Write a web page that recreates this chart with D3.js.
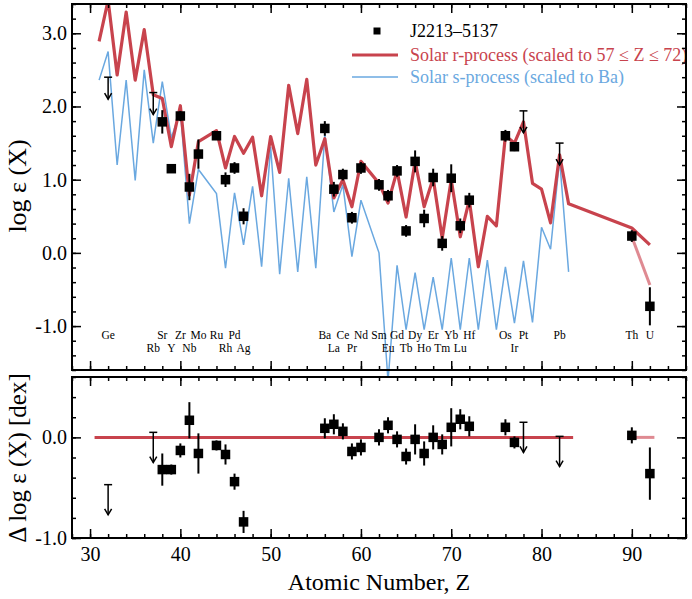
<!DOCTYPE html>
<html>
<head>
<meta charset="utf-8">
<script src="https://cdn.jsdelivr.net/npm/d3@7"></script>
<style>
  body { margin: 0; background: #fff; }
  svg { display: block; font-family: 'Liberation Serif', 'DejaVu Serif', serif; }
</style>
</head>
<body>
<div id="chart"></div>
<script>
// Solar r-process pattern (scaled)
const rZ = [31,32,33,34,35,36,37,38,39,40,41,42,44,45,46,47,48,49,50,51,52,53,54,55,56,57,58,59,60,
  62,63,64,65,66,67,68,69,70,71,72,73,74,75,76,77,78,79,80,81,82,83,90,92];
const rLog = [2.89,3.45,2.43,3.29,2.36,3.05,2.16,2.11,1.45,2.01,0.79,1.52,1.67,1.16,1.59,1.36,1.58,0.78,1.59,1.10,2.29,1.63,2.37,1.20,1.56,0.75,1.00,0.63,1.25,
  0.95,0.68,1.12,0.49,1.25,0.63,1.02,0.20,1.00,0.22,0.72,-0.19,0.50,0.37,1.60,1.50,1.79,0.95,0.87,0.41,1.34,0.67,0.34,0.11];

// Solar s-process pattern (scaled to Ba)
const sZ = [31,32,33,34,35,36,37,38,39,40,41,42,44,45,46,47,48,49,50,51,52,53,54,55,56,57,58,59,60,
  62,63,64,65,66,67,68,69,70,71,72,73,74,75,76,77,78,79,80,81,82,83];
const sLog = [2.36,2.75,1.20,2.36,0.99,2.50,1.50,2.34,1.57,1.95,0.40,1.14,0.81,-0.21,0.82,0.11,0.91,-0.19,1.45,-0.29,1.02,-0.26,1.04,-0.21,1.62,0.56,0.93,-0.05,0.72,
  0.00,-1.75,-0.17,-1.05,-0.27,-1.05,-0.33,-1.05,-0.07,-1.05,-0.07,-1.05,-0.10,-1.05,-0.19,-0.96,-0.11,-0.95,0.35,0.05,1.28,-0.26];

// Th -> U decay line
const decayZ = [90, 92];
const decayLog = [0.22, -0.44];

// J2213-5137 measurements
const obsZ = [38,39,40,41,42,44,45,46,47,56,57,58,59,60,62,63,64,65,66,67,68,69,70,71,72,76,77,90,92];
const obsLog = [1.79,1.15,1.87,0.90,1.35,1.60,1.00,1.16,0.50,1.70,0.87,1.07,0.48,1.16,0.93,0.78,1.12,0.30,1.25,0.47,1.03,0.13,1.02,0.37,0.72,1.60,1.45,0.23,-0.73];
const obsErr = [0.16,0.05,0.07,0.18,0.20,0.05,0.10,0.08,0.11,0.10,0.10,0.08,0.08,0.08,0.08,0.08,0.08,0.08,0.15,0.12,0.12,0.10,0.19,0.10,0.10,0.08,0.06,0.08,0.26];
const obsDelta = [-0.32,-0.32,-0.13,0.17,-0.16,-0.08,-0.17,-0.44,-0.84,0.09,0.13,0.06,-0.14,-0.10,0.00,0.12,-0.02,-0.19,-0.02,-0.16,0.00,-0.07,0.10,0.18,0.11,0.10,-0.05,0.02,-0.36];

// upper limits
const ulZ = [32, 37, 78, 82];
const ulLog = [2.40, 2.19, 1.94, 1.50];
const ulDelta = [-0.47, 0.05, 0.15, 0.01];

// element labels
const elemZ = [32,37,38,39,40,41,42,44,45,46,47,56,57,58,59,60,62,63,64,65,66,67,68,69,70,71,72,76,77,78,82,90,92];
const elemName = ['Ge','Rb','Sr','Y','Zr','Nb','Mo','Ru','Rh','Pd','Ag','Ba','La','Ce','Pr','Nd','Sm','Eu','Gd','Tb','Dy','Ho','Er','Tm','Yb','Lu','Hf','Os','Ir','Pt','Pb','Th','U'];

// residual reference lines
const resLineZ = [30.5, 83.5];
const resDecayZ = [89.5, 92.5];

const RED = '#c8434d';
const BLUE = '#6aa8e0';
const PINK = '#df8a92';

const width = 692, height = 599;
const svg = d3.select('#chart').append('svg').attr('width', width).attr('height', height);

const x = d3.scaleLinear().domain([28, 96]).range([72, 686]);
const yTop = d3.scaleLinear().domain([-1.6, 3.4]).range([370, 4]);
const yBot = d3.scaleLinear().domain([-1.0, 0.6]).range([538, 377]);

const fmt = (d) => d.toFixed(1);

svg.append('defs').append('clipPath').attr('id', 'clipTop')
  .append('rect').attr('x', 72).attr('y', 4).attr('width', 614).attr('height', 380);

function zip(a, b) { return a.map((d, i) => [d, b[i]]); }

// ---------- top panel ----------
const topG = svg.append('g');
const lineTop = d3.line().x((d) => x(d[0])).y((d) => yTop(d[1]));
const curves = topG.append('g').attr('clip-path', 'url(#clipTop)');

curves.append('path').datum(zip(sZ, sLog)).attr('d', lineTop)
  .attr('fill', 'none').attr('stroke', BLUE).attr('stroke-width', 1.5).attr('stroke-linejoin', 'miter');
curves.append('path').datum(zip(decayZ, decayLog)).attr('d', lineTop)
  .attr('fill', 'none').attr('stroke', PINK).attr('stroke-width', 3);
curves.append('path').datum(zip(rZ, rLog)).attr('d', lineTop)
  .attr('fill', 'none').attr('stroke', RED).attr('stroke-width', 3.2).attr('stroke-linejoin', 'round');

// element labels
topG.append('g').selectAll('text')
  .data(zip(elemZ, elemName))
  .join('text')
  .attr('x', (d) => x(d[0]))
  .attr('y', (d) => (d[0] % 2 === 1 ? yTop(-1.36) : yTop(-1.18)))
  .attr('text-anchor', 'middle')
  .attr('font-size', 11.5)
  .text((d) => d[1]);

function drawPoints(g, ys, vals) {
  const pts = obsZ.map((z, i) => ({ z, v: vals[i], e: obsErr[i] }));
  g.append('g').selectAll('line')
    .data(pts).join('line')
    .attr('x1', (d) => x(d.z)).attr('x2', (d) => x(d.z))
    .attr('y1', (d) => ys(d.v - d.e)).attr('y2', (d) => ys(d.v + d.e))
    .attr('stroke', '#000').attr('stroke-width', 2);
  g.append('g').selectAll('rect')
    .data(pts).join('rect')
    .attr('x', (d) => x(d.z) - 4.75).attr('y', (d) => ys(d.v) - 4.75)
    .attr('width', 9.5).attr('height', 9.5).attr('fill', '#000');
}

function drawLimits(g, ys, vals) {
  const lims = ulZ.map((z, i) => ({ z, v: vals[i] }));
  const s = g.append('g').attr('stroke', '#000').attr('stroke-width', 1.5).attr('fill', 'none');
  lims.forEach((d) => {
    const cx = x(d.z), y0 = ys(d.v), y1 = ys(d.v - 0.3);
    s.append('line').attr('x1', cx - 4).attr('x2', cx + 4).attr('y1', y0).attr('y2', y0);
    s.append('line').attr('x1', cx).attr('x2', cx).attr('y1', y0).attr('y2', y1);
    s.append('path').attr('d', `M${cx - 3.5},${y1 - 6}L${cx},${y1}L${cx + 3.5},${y1 - 6}`);
  });
}

drawLimits(topG, yTop, ulLog);
drawPoints(topG, yTop, obsLog);

// legend
const leg = topG.append('g').attr('font-size', 18);
leg.append('rect').attr('x', 373.5).attr('y', 27.5).attr('width', 7).attr('height', 7).attr('fill', '#000');
leg.append('text').attr('x', 410).attr('y', 37).text('J2213–5137');
leg.append('line').attr('x1', 352).attr('x2', 398).attr('y1', 55).attr('y2', 55).attr('stroke', RED).attr('stroke-width', 3);
leg.append('text').attr('x', 410).attr('y', 61).attr('fill', RED).text('Solar r-process (scaled to 57 ≤ Z ≤ 72)');
leg.append('line').attr('x1', 352).attr('x2', 398).attr('y1', 77).attr('y2', 77).attr('stroke', BLUE).attr('stroke-width', 1.5);
leg.append('text').attr('x', 410).attr('y', 83).attr('fill', BLUE).text('Solar s-process (scaled to Ba)');

// ---------- bottom panel ----------
const botG = svg.append('g');
botG.append('rect').attr('x', 72).attr('y', 377).attr('width', 614).attr('height', 161).attr('fill', '#fff');
const lineBot = d3.line().x((d) => x(d[0])).y((d) => yBot(d[1]));
botG.append('path').datum(resLineZ.map((z) => [z, 0])).attr('d', lineBot)
  .attr('stroke', RED).attr('stroke-width', 3).attr('fill', 'none');
botG.append('path').datum(resDecayZ.map((z) => [z, 0])).attr('d', lineBot)
  .attr('stroke', PINK).attr('stroke-width', 3).attr('fill', 'none');
drawLimits(botG, yBot, ulDelta);
drawPoints(botG, yBot, obsDelta);

// ---------- axes ----------
function frame(g, ys, yMajor, yMinor, showX) {
  const [y0, y1] = ys.range();
  const [x0, x1] = x.range();
  const xMaj = d3.range(30, 96, 10), xMin = d3.range(28, 97, 2);

  const style = (sel) => {
    sel.select('.domain').remove();
    sel.selectAll('line').attr('stroke', '#000').attr('stroke-width', 1.5);
    sel.selectAll('text').attr('font-size', 20).attr('fill', '#000');
    sel.attr('font-family', null);
  };

  g.append('g').attr('transform', `translate(0,${y0})`)
    .call(d3.axisBottom(x).tickValues(xMin).tickSize(-4).tickFormat('')).call(style);
  g.append('g').attr('transform', `translate(0,${y0})`)
    .call(d3.axisBottom(x).tickValues(xMaj).tickSize(-9).tickPadding(9).tickFormat(showX ? d3.format('d') : '')).call(style);
  g.append('g').attr('transform', `translate(0,${y1})`)
    .call(d3.axisTop(x).tickValues(xMin).tickSize(-4).tickFormat('')).call(style);
  g.append('g').attr('transform', `translate(0,${y1})`)
    .call(d3.axisTop(x).tickValues(xMaj).tickSize(-9).tickFormat('')).call(style);

  g.append('g').attr('transform', `translate(${x0},0)`)
    .call(d3.axisLeft(ys).tickValues(yMinor).tickSize(-4).tickFormat('')).call(style);
  g.append('g').attr('transform', `translate(${x0},0)`)
    .call(d3.axisLeft(ys).tickValues(yMajor).tickSize(-9).tickPadding(5).tickFormat(fmt)).call(style);
  g.append('g').attr('transform', `translate(${x1},0)`)
    .call(d3.axisRight(ys).tickValues(yMinor).tickSize(-4).tickFormat('')).call(style);
  g.append('g').attr('transform', `translate(${x1},0)`)
    .call(d3.axisRight(ys).tickValues(yMajor).tickSize(-9).tickFormat('')).call(style);

  g.append('rect').attr('x', x0).attr('y', y1).attr('width', x1 - x0).attr('height', y0 - y1)
    .attr('fill', 'none').attr('stroke', '#000').attr('stroke-width', 2);
}

frame(svg.append('g'), yTop, [3, 2, 1, 0, -1], d3.range(-16, 35, 2).map((d) => d / 10), false);
frame(svg.append('g'), yBot, [0, -1], d3.range(-10, 7, 2).map((d) => d / 10), true);

// axis titles
svg.append('text').attr('transform', `translate(26,186) rotate(-90)`)
  .attr('text-anchor', 'middle').attr('font-size', 26).text('log ε (X)');
svg.append('text').attr('transform', `translate(26,458) rotate(-90)`)
  .attr('text-anchor', 'middle').attr('font-size', 25).text('Δ log ε (X) [dex]');
svg.append('text').attr('x', 379).attr('y', 590)
  .attr('text-anchor', 'middle').attr('font-size', 24).text('Atomic Number, Z');
</script>
</body>
</html>
